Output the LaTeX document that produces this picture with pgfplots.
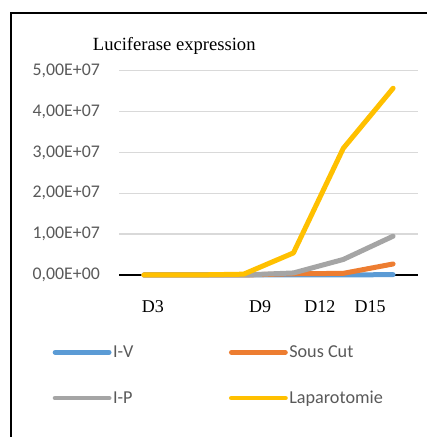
\documentclass[border=0pt]{standalone}
\usepackage{pgfplots}
\pgfplotsset{compat=1.18}
\usepackage{fontspec}
\setmainfont{Liberation Serif}
\newfontfamily\carlito{Carlito}
\definecolor{cblue}{HTML}{5B9BD5}
\definecolor{corange}{HTML}{ED7D31}
\definecolor{cgray}{HTML}{A5A5A5}
\definecolor{cyellow}{HTML}{FFC000}
\definecolor{gridgray}{HTML}{D9D9D9}
\definecolor{labgray}{HTML}{595959}
\begin{document}
\begin{tikzpicture}[x=1bp,y=1bp]
\useasboundingbox (0,0) rectangle (426,437);
\draw[line width=1.3bp] (11,-2) -- (11,424) -- (428,424);
\node[anchor=base west, inner sep=0pt, font=\fontsize{18.6bp}{22bp}\selectfont] at (92.7,386) {Luciferase expression};
\begin{axis}[
  at={(119bp,162bp)}, anchor=south west,
  width=299bp, height=204.3bp, scale only axis,
  xmin=-0.5, xmax=5.5, ymin=0, ymax=50000000, clip=false,
  axis x line=bottom, axis y line=left,
  y axis line style={draw=none},
  x axis line style={-, black, line width=1.5bp},
  ymajorgrids, grid style={color=gridgray, line width=1.5bp},
  major tick length=0pt,
  scaled y ticks=false,
  ytick={0,10000000,20000000,30000000,40000000,50000000},
  yticklabels={{0,00E+00},{1,00E+07},{2,00E+07},{3,00E+07},{4,00E+07},{5,00E+07}},
  yticklabel style={font=\carlito\fontsize{17.8bp}{21bp}\selectfont, text=labgray, anchor=east, inner sep=0pt, xshift=-19bp},
  xtick={0.18,2.33,3.53,4.54},
  xticklabels={D3,D9,D12,D15},
  xticklabel style={font=\fontsize{18bp}{21bp}\selectfont, anchor=north, inner sep=0pt, yshift=-25bp},
  legend columns=2,
  legend image code/.code={\draw[#1, line width=4.8bp, line cap=round] (0bp,0bp) -- (54bp,0bp);},
  legend style={at={(-0.2224,-0.338)}, anchor=north west, draw=none, fill=none,
    inner sep=0pt, nodes={inner sep=1.5bp},
    font=\carlito\fontsize{18.2bp}{21bp}\selectfont, text=labgray,
    /tikz/every even column/.append style={column sep=94bp},
    row sep=29bp},
  legend cell align=left,
  every axis plot/.append style={line width=5bp, line join=round, line cap=round},
]
\addplot[cblue] coordinates {(0,0) (1,0) (2,0) (3,0) (4,0) (5,100000)};
\addlegendentry{I-V}
\addplot[corange] coordinates {(0,0) (1,0) (2,0) (3,300000) (4,400000) (5,2700000)};
\addlegendentry{Sous Cut}
\addplot[cgray] coordinates {(0,0) (1,0) (2,0) (3,500000) (4,3800000) (5,9500000)};
\addlegendentry{I-P}
\addplot[cyellow] coordinates {(0,0) (1,0) (2,200000) (3,5400000) (4,31000000) (5,45700000)};
\addlegendentry{Laparotomie}
\end{axis}
\end{tikzpicture}
\end{document}
